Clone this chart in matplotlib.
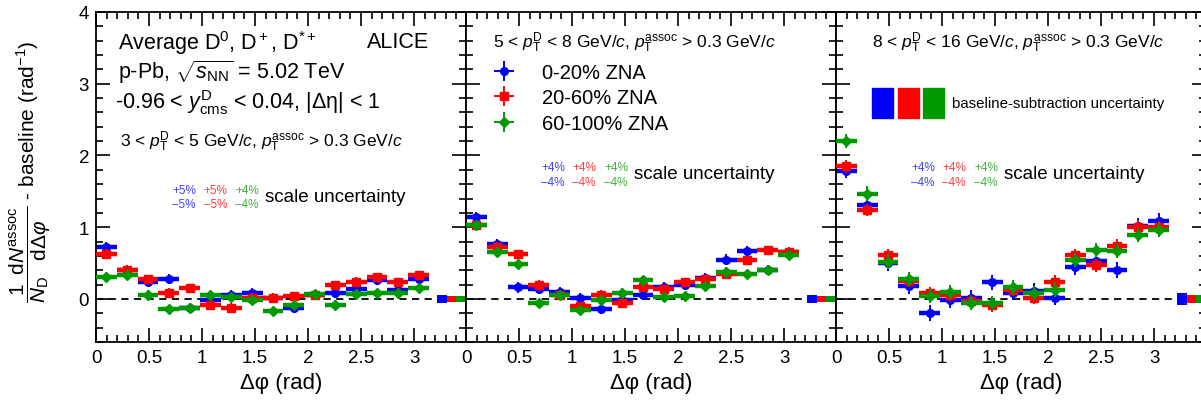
import numpy as np
import matplotlib
matplotlib.use("Agg")
import matplotlib.pyplot as plt
from matplotlib.ticker import MultipleLocator

plt.rcParams['font.family'] = ['Liberation Sans', 'DejaVu Sans']
plt.rcParams['mathtext.fontset'] = 'custom'
plt.rcParams['mathtext.rm'] = 'Liberation Sans'
plt.rcParams['mathtext.it'] = 'Liberation Sans:italic'
plt.rcParams['mathtext.bf'] = 'Liberation Sans:bold'

# ---------------- data ----------------
dphi = [0.098, 0.295, 0.491, 0.687, 0.884, 1.080, 1.276, 1.473,
        1.669, 1.865, 2.062, 2.258, 2.454, 2.651, 2.847, 3.043]
bin_halfwidth = 0.098

series_labels = ["0-20% ZNA", "20-60% ZNA", "60-100% ZNA"]
colors = ["#0000ff", "#ff0000", "#009900"]
markers = ["o", "s", "D"]

# panel 1: 3 < pT < 5
p1_blue = [0.73, 0.41, 0.24, 0.28, -0.13, -0.01, 0.05, 0.08, 0.01, -0.12, 0.05, 0.08, 0.14, 0.27, 0.13, 0.28]
p1_red = [0.63, 0.41, 0.28, 0.09, 0.15, -0.09, -0.12, 0.02, 0.02, 0.04, 0.05, 0.19, 0.24, 0.30, 0.23, 0.33]
p1_green = [0.31, 0.33, 0.06, -0.14, -0.12, 0.05, 0.03, -0.02, -0.17, -0.08, 0.07, -0.08, 0.07, 0.08, 0.08, 0.15]
# panel 2: 5 < pT < 8
p2_blue = [1.14, 0.77, 0.16, 0.14, 0.10, 0.01, -0.14, -0.02, 0.05, 0.16, 0.19, 0.29, 0.55, 0.67, 0.41, 0.65]
p2_red = [1.03, 0.73, 0.62, 0.20, 0.05, -0.10, 0.06, -0.06, 0.16, 0.14, 0.23, 0.28, 0.35, 0.54, 0.68, 0.66]
p2_green = [1.03, 0.66, 0.49, -0.06, 0.06, -0.15, -0.01, 0.09, 0.26, 0.03, 0.04, 0.18, 0.38, 0.35, 0.40, 0.61]
# panel 3: 8 < pT < 16
p3_blue = [1.79, 1.31, 0.50, 0.18, -0.20, -0.01, 0.02, 0.23, 0.09, 0.11, 0.02, 0.44, 0.53, 0.40, 1.02, 1.09]
p3_red = [1.85, 1.24, 0.61, 0.25, 0.08, 0.06, -0.03, -0.09, 0.13, 0.02, 0.24, 0.61, 0.47, 0.74, 1.01, 1.00]
p3_green = [2.20, 1.47, 0.52, 0.28, 0.04, 0.10, -0.06, -0.06, 0.16, 0.08, 0.13, 0.54, 0.68, 0.67, 0.89, 0.96]

# vertical stat. errors (per panel, per series)
p1_err = [0.07, 0.06, 0.06]
p2_err = [0.07, 0.06, 0.06]
p3_err = [0.11, 0.09, 0.10]

# baseline-subtraction uncertainty boxes (x centres after pi, half heights)
base_x = [3.265, 3.36, 3.445]
base_w = 0.09
p1_base = [0.05, 0.045, 0.045]
p2_base = [0.05, 0.045, 0.045]
p3_base = [0.08, 0.05, 0.055]

scale_pct = [["+5%", "+5%", "+4%", "\u20135%", "\u20135%", "\u20134%"],
             ["+4%", "+4%", "+4%", "\u20134%", "\u20134%", "\u20134%"],
             ["+4%", "+4%", "+4%", "\u20134%", "\u20134%", "\u20134%"]]

xticks = [0, 0.5, 1, 1.5, 2, 2.5, 3]
yticks = [0, 1, 2, 3, 4]

panels = [
    ([p1_blue, p1_red, p1_green], p1_err, p1_base),
    ([p2_blue, p2_red, p2_green], p2_err, p2_base),
    ([p3_blue, p3_red, p3_green], p3_err, p3_base),
]

# ---------------- figure ----------------
W, H = 1201, 402
fig = plt.figure(figsize=(W / 100, H / 100), dpi=100)

def fx(px):
    return px / W

def fy(py):
    return 1 - py / H

ax_left = [96, 466, 836]
ax_w = 370
bottom = fy(343)
height = fy(13) - fy(343)

axes = []
handles = []
for k, (series, errs, base) in enumerate(panels):
    ax = fig.add_axes([fx(ax_left[k]), bottom, fx(ax_w), height])
    axes.append(ax)
    ax.set_xlim(0, 3.49)
    ax.set_ylim(-0.6, 4)
    ax.plot([0, 3.2], [0, 0], color="black", lw=1.3, ls=(0, (4, 3)), zorder=1)
    for s, (vals, col, mk) in enumerate(zip(series, colors, markers)):
        x = np.array(dphi)
        y = np.array(vals)
        ax.hlines(y, x - bin_halfwidth, x + bin_halfwidth, colors=col, lw=3.2, zorder=2 + s)
        h = ax.errorbar(x, y, yerr=errs[s], xerr=bin_halfwidth, fmt=mk, color=col,
                        ms=5.5 if mk != "D" else 5, elinewidth=1.4, capsize=0, zorder=2 + s,
                        label=series_labels[s])
        if k == 1:
            handles.append(h)
        ax.bar(base_x[s], 2 * base[s], bottom=-base[s], width=base_w, color=col,
               edgecolor="none", zorder=5)
    ax.set_xticks(xticks)
    ax.set_xticklabels(["0", "0.5", "1", "1.5", "2", "2.5", "3"])
    ax.xaxis.set_minor_locator(MultipleLocator(0.1))
    ax.set_yticks(yticks)
    ax.yaxis.set_minor_locator(MultipleLocator(0.2))
    ax.tick_params(which="both", direction="in", top=True, right=True, width=1.2,
                   labelsize=13.5, pad=5)
    ax.tick_params(which="major", length=10)
    ax.tick_params(which="minor", length=5)
    if k > 0:
        ax.set_yticklabels([])
    for sp in ax.spines.values():
        sp.set_linewidth(1.3)
    fig.text(fx(ax_left[k] + 185), fy(384), "\u0394\u03c6 (rad)", ha="center",
             va="center", fontsize=16)

# y label
fig.text(fx(30), fy(172),
         r"$\dfrac{1}{N_{\rm D}}\dfrac{{\rm d}N^{\rm assoc}}{{\rm d}\Delta\varphi}$ - baseline (rad$^{-1}$)",
         rotation=90, ha="center", va="center", fontsize=15)

# panel 1 texts
fig.text(fx(118), fy(43), r"Average D$^0$, D$^+$, D$^{*+}$", fontsize=15.5, va="center")
fig.text(fx(367), fy(43), "ALICE", fontsize=15.5, va="center")
fig.text(fx(118), fy(72), r"p-Pb, $\sqrt{s_{\rm NN}}$ = 5.02 TeV", fontsize=15.5, va="center")
fig.text(fx(115), fy(103), "-0.96 < $y^{\\rm D}_{\\rm cms}$ < 0.04, |\u0394\u03b7| < 1",
         fontsize=15.5, va="center")
fig.text(fx(120), fy(142),
         r"3 < $p_{\rm T}^{\rm D}$ < 5 GeV/$c$, $p_{\rm T}^{\rm assoc}$ > 0.3 GeV/$c$",
         fontsize=12.5, va="center")
fig.text(fx(493), fy(43),
         r"5 < $p_{\rm T}^{\rm D}$ < 8 GeV/$c$, $p_{\rm T}^{\rm assoc}$ > 0.3 GeV/$c$",
         fontsize=12.5, va="center")
fig.text(fx(872), fy(43),
         r"8 < $p_{\rm T}^{\rm D}$ < 16 GeV/$c$, $p_{\rm T}^{\rm assoc}$ > 0.3 GeV/$c$",
         fontsize=12.5, va="center")

# scale uncertainty labels
scale_x0 = [172, 541, 911]
for k in range(3):
    for j in range(3):
        fig.text(fx(scale_x0[k] + 31.5 * j), fy(191 if k == 0 else 168), scale_pct[k][j],
                 color=colors[j], fontsize=8.5, va="center", alpha=0.75)
        fig.text(fx(scale_x0[k] + 31.5 * j), fy(205 if k == 0 else 183), scale_pct[k][3 + j],
                 color=colors[j], fontsize=8.5, va="center", alpha=0.75)
    fig.text(fx(scale_x0[k] + 93), fy(198 if k == 0 else 175), "scale uncertainty",
             fontsize=13.5, va="center")

# legend (panel 2)
leg = axes[1].legend(handles=handles, labels=series_labels, loc="upper left",
                     bbox_to_anchor=(fx(476), fy(64)), bbox_transform=fig.transFigure,
                     frameon=False, fontsize=14.5, handlelength=2.8, handletextpad=0.5,
                     labelspacing=0.32, borderaxespad=0, borderpad=0)

# baseline uncertainty boxes legend (panel 3)
for j, x0 in enumerate([872, 898, 923]):
    fig.patches.append(matplotlib.patches.Rectangle((fx(x0), fy(119)), fx(21), fy(89) - fy(119),
                                                    transform=fig.transFigure, color=colors[j]))
fig.text(fx(952), fy(104), "baseline-subtraction uncertainty", fontsize=10.8, va="center")

fig.savefig("out.png", dpi=100)
